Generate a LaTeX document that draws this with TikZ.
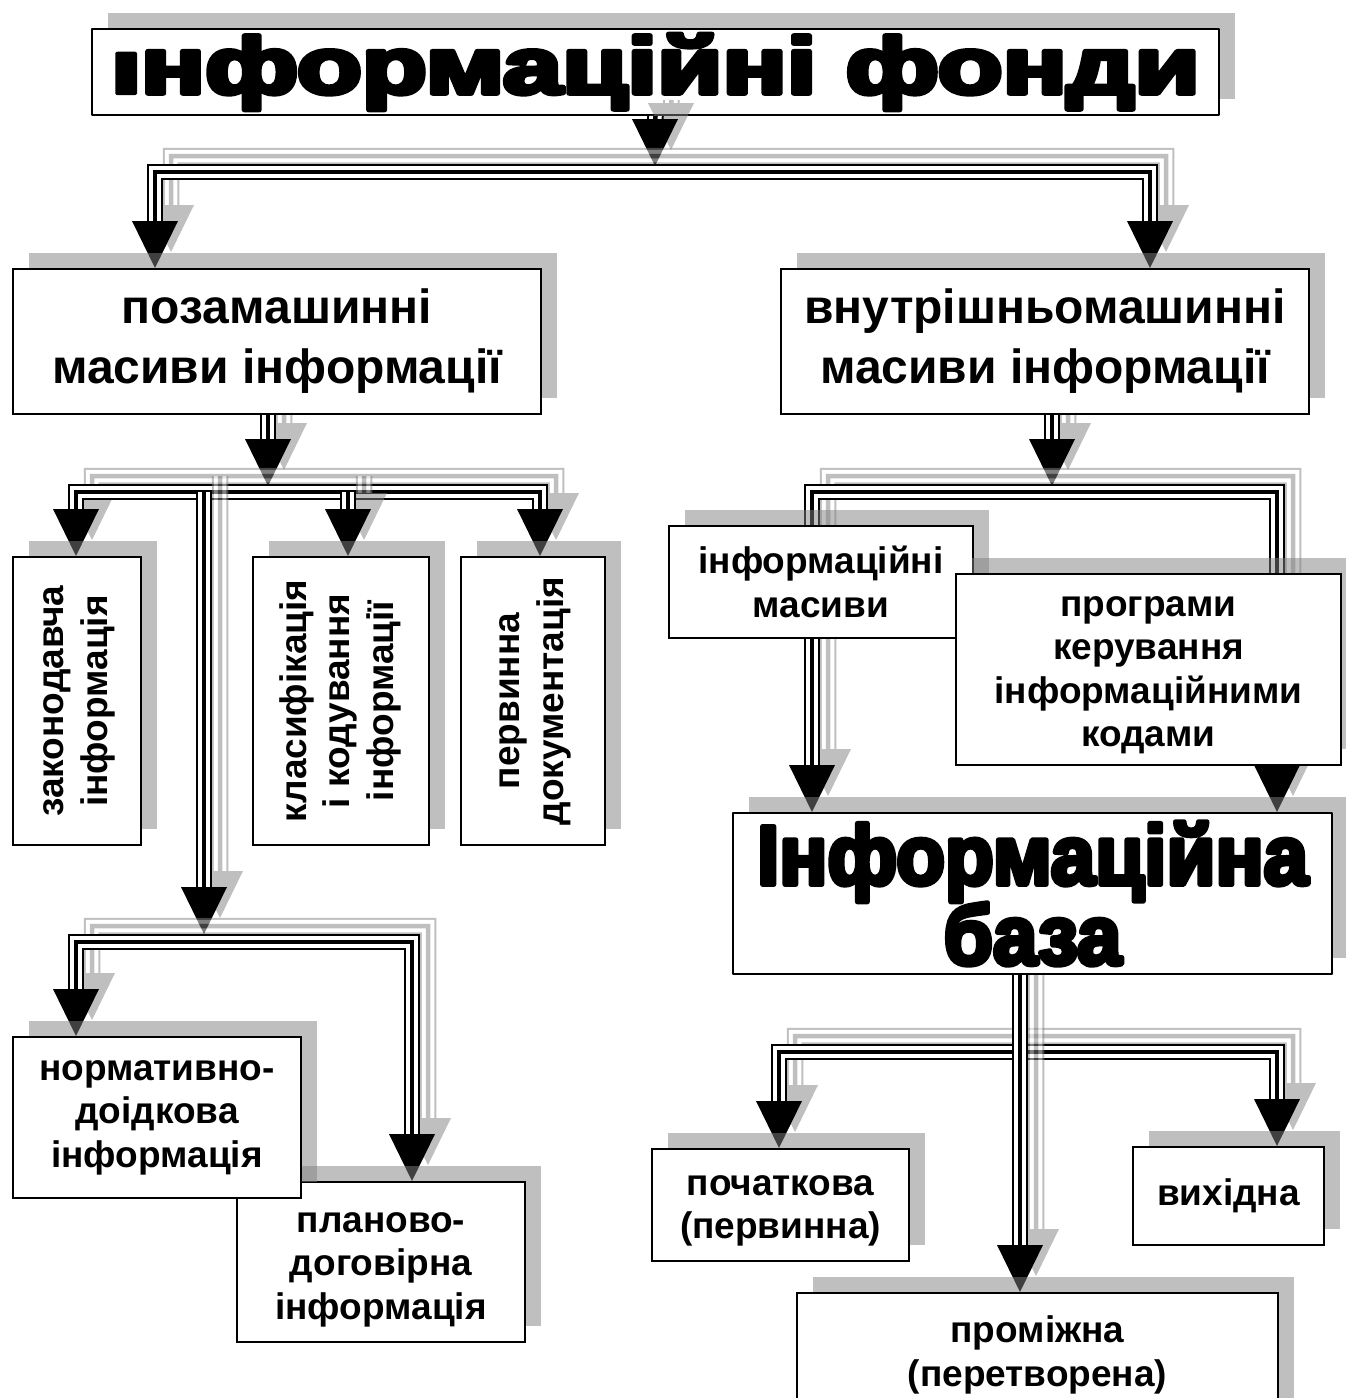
\documentclass[tikz,border=0pt]{standalone}
\usepackage{fontspec}
\setmainfont{Liberation Sans}
\newfontfamily\heavy{Liberation Sans}[BoldFeatures={FakeBold=6}]
\usepackage{graphicx}
\usetikzlibrary{shadows,calc}

\tikzset{
  box/.style={draw, line width=2pt, fill=white, inner sep=0pt, align=center, anchor=north west,
    drop shadow={shadow xshift=16pt, shadow yshift=16pt, opacity=.5, fill=black!50, draw=none}},
  small/.style={font=\fontsize{37}{43.5}\selectfont\bfseries},
  big/.style={font=\fontsize{48}{60}\selectfont\bfseries},
  heavytitle/.style={line join=round, font=\heavy\bfseries\fontsize{80}{80}\selectfont},
  heavybase/.style={line join=round, font=\heavy\bfseries\fontsize{84}{76}\selectfont},
}

\newcommand\tripleline[2]{%
  \draw[line width=16.5pt,#2,line join=miter] #1;
  \draw[line width=12.5pt,white,line join=miter] #1;
  \draw[line width=4.5pt,#2,line join=miter] #1;}
\newcommand\headsat[2]{\foreach \p in {#1}{\fill[#2] (\p) -- ++(-23,-47) -- ++(46,0) -- cycle;}}
\newcommand\conn[2]{%
  \begin{scope}[transform canvas={xshift=16pt,yshift=16pt}]
    \begin{scope}[transparency group,opacity=.5]
      \tripleline{#1}{black!50}\headsat{#2}{black!50}
    \end{scope}
  \end{scope}
  \tripleline{#1}{black}\headsat{#2}{black}}

\begin{document}
\begin{tikzpicture}[x=1pt,y=-1pt]
\fill[white] (0,0) rectangle (1346,1398);
\useasboundingbox (0,0) rectangle (1346,1398);

% joints and arrow tips
\coordinate (h0) at (655,166);
\coordinate (tL) at (155,172); \coordinate (tR) at (1150,172);
\coordinate (h2) at (155,268); \coordinate (h3) at (1150,268);
\coordinate (f2) at (268,413); \coordinate (h4) at (268,486);
\coordinate (lL) at (76,492);  \coordinate (lR) at (540,492);
\coordinate (lM) at (348,492); \coordinate (lV) at (204,492);
\coordinate (hz1) at (76,556); \coordinate (hz2) at (348,556); \coordinate (hz3) at (540,556);
\coordinate (hv) at (204,934);
\coordinate (mL) at (76,942);  \coordinate (mR) at (412,942);
\coordinate (hn1) at (76,1036); \coordinate (hn2) at (412,1181);
\coordinate (f3) at (1052,413); \coordinate (h5) at (1052,486);
\coordinate (rL) at (812,492); \coordinate (rR) at (1277,492);
\coordinate (hb1) at (812,812); \coordinate (hb2) at (1277,812);
\coordinate (bL) at (779,1052); \coordinate (bR) at (1277,1052);
\coordinate (hp1) at (779,1148); \coordinate (hp2) at (1277,1146);
\coordinate (f4) at (1020,973); \coordinate (hp3) at (1020,1292);

% title
\node[box, heavytitle, minimum width=1127pt, minimum height=86pt] (title) at (91,28)
  {\scalebox{1.33}[1]{\scalebox{1}[0.73]{І}нформаційні фонди}};

% connectors (drawn under the boxes)
\conn{(title.south) -- ([yshift=25pt]h0)}{h0}
\conn{([yshift=25pt]h2) -- (tL) -- (tR) -- ([yshift=25pt]h3)}{h2,h3}
\conn{(f2) -- ([yshift=25pt]h4)}{h4}
\conn{([yshift=25pt]hz1) -- (lL) -- (lR) -- ([yshift=25pt]hz3)}{hz1,hz3}
\conn{(lM) -- ([yshift=25pt]hz2)}{hz2}
\conn{(lV) -- ([yshift=25pt]hv)}{hv}
\conn{([yshift=25pt]hn1) -- (mL) -- (mR) -- ([yshift=25pt]hn2)}{hn1,hn2}
\conn{(f3) -- ([yshift=25pt]h5)}{h5}
\conn{([yshift=25pt]hb1) -- (rL) -- (rR) -- ([yshift=25pt]hb2)}{hb1,hb2}
\conn{([yshift=25pt]hp1) -- (bL) -- (bR) -- ([yshift=25pt]hp2)}{hp1,hp2}
\conn{(f4) -- ([yshift=25pt]hp3)}{hp3}

% boxes
\node[box, big, minimum width=528pt, minimum height=145pt] (b2) at (12,268)
  {позамашинні\\масиви інформації};
\node[box, big, minimum width=528pt, minimum height=145pt] (b3) at (780,268)
  {внутрішньомашинні\\масиви інформації};
\node[box, small, minimum width=128pt, minimum height=288pt] (z1) at (12,556)
  {\rotatebox{90}{\begin{tabular}{@{}c@{}}законодавча\\інформація\end{tabular}}};
\node[box, small, minimum width=176pt, minimum height=288pt] (z2) at (252,556)
  {\rotatebox{90}{\begin{tabular}{@{}c@{}}класифікація\\і кодування\\інформації\end{tabular}}};
\node[box, small, minimum width=144pt, minimum height=288pt] (z3) at (460,556)
  {\rotatebox{90}{\begin{tabular}{@{}c@{}}первинна\\документація\end{tabular}}};
\node[box, small, minimum width=288pt, minimum height=160pt] (n2) at (236,1181)
  {\\[-8pt]планово-\\договірна\\інформація};
\node[box, small, minimum width=288pt, minimum height=161pt] (n1) at (12,1036)
  {нормативно-\\доідкова\\інформація};
\node[box, small, minimum width=304pt, minimum height=112pt] (im) at (668,525)
  {інформаційні\\масиви};
\node[box, small, minimum width=385pt, minimum height=191pt] (pr) at (955,573)
  {\\[-12pt]програми\\керування\\інформаційними\\кодами};
\node[box, heavybase, minimum width=599pt, minimum height=161pt] (base) at (732,812)
  {\scalebox{0.95}[1]{Інформаційна}\\\scalebox{0.95}[1]{база}};
\node[box, small, minimum width=257pt, minimum height=112pt] (p1) at (651,1148)
  {\\[-12pt]початкова\\(первинна)};
\node[box, small, minimum width=191pt, minimum height=98pt] (p2) at (1132,1146)
  {вихідна};
\node[box, small, minimum width=481pt, minimum height=124pt] (p3) at (796,1292)
  {проміжна\\(перетворена)};
\end{tikzpicture}
\end{document}
